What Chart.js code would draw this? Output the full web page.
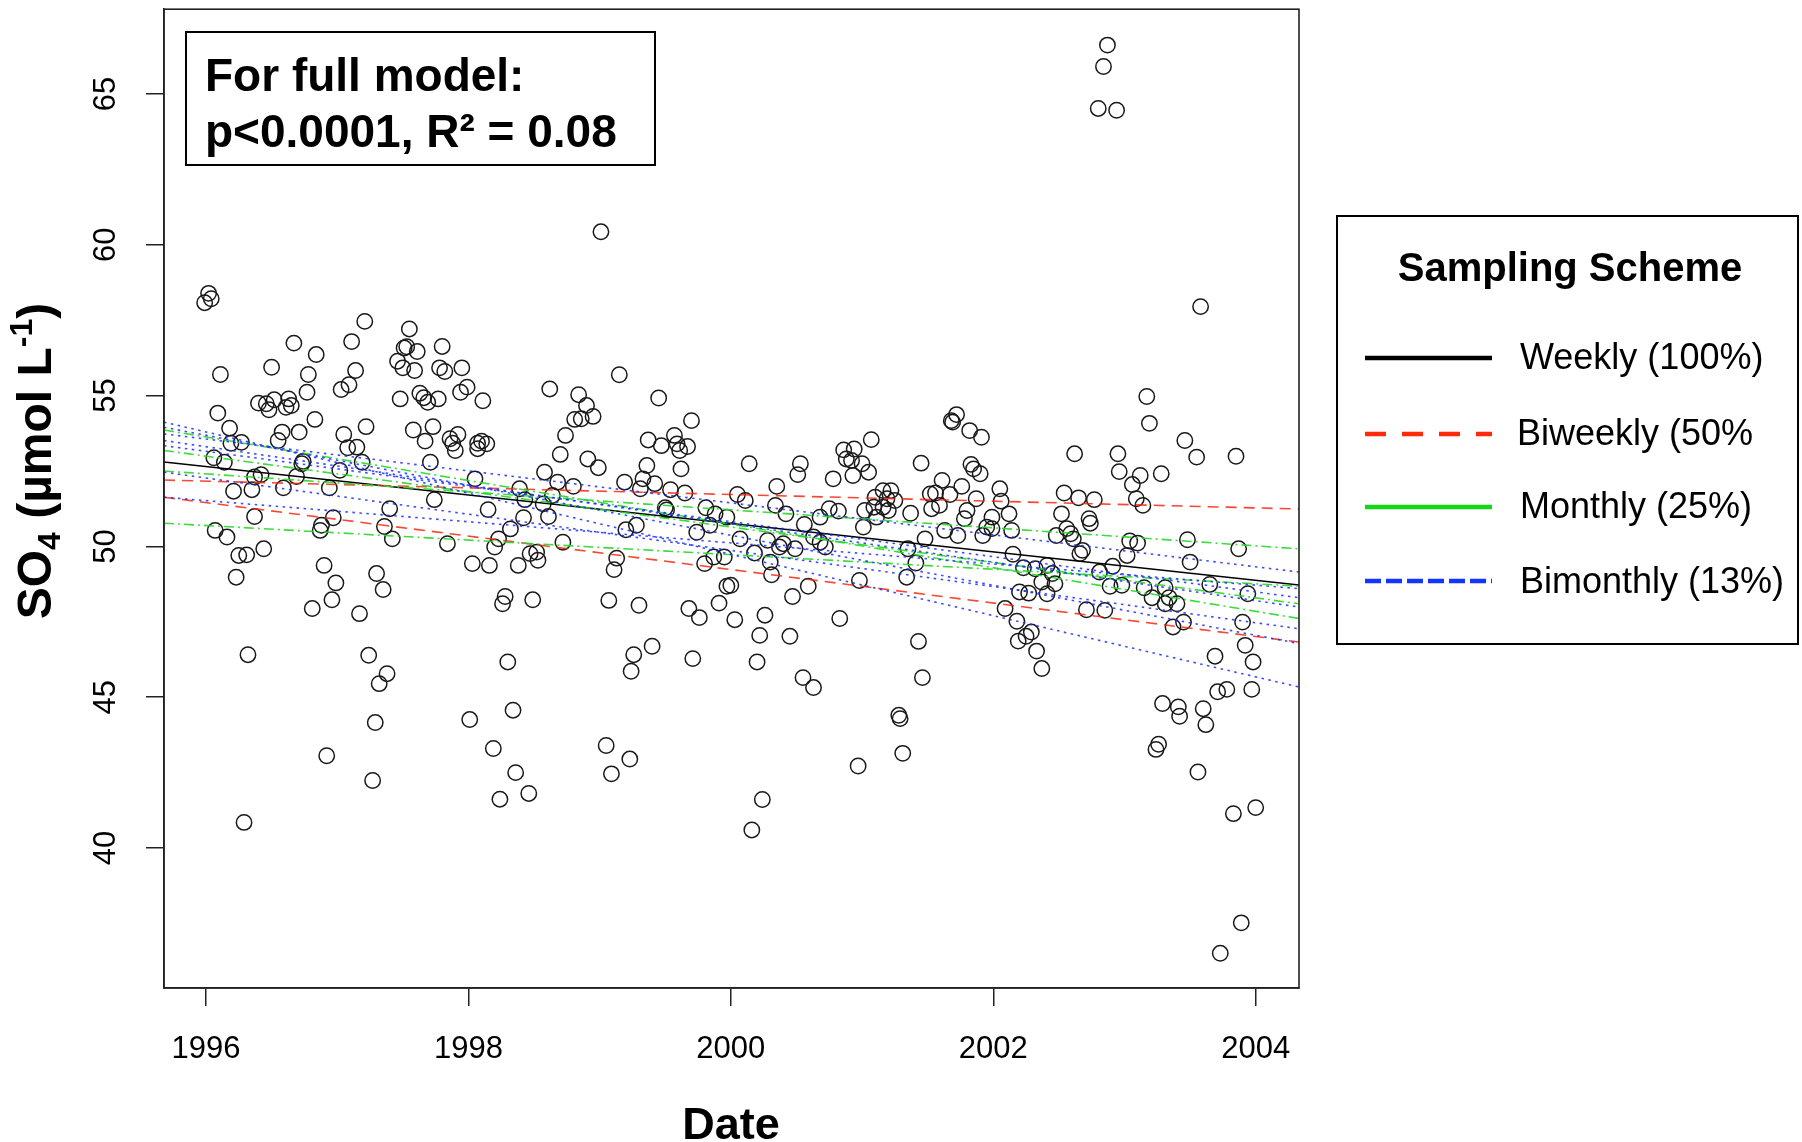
<!DOCTYPE html>
<html>
<head>
<meta charset="utf-8">
<script src="https://cdn.jsdelivr.net/npm/chart.js@4.4.1/dist/chart.umd.min.js"></script>
<style>
	html, body { margin: 0; padding: 0; background: #fff; }
	#wrap { position: relative; width: 1802px; height: 1142px; }
</style>
</head>
<body>
<div id="wrap"><canvas id="so4-chart"></canvas></div>
<script>
// sample dates (decimal year) and SO4 concentrations
var sampleDates = [
	1996.02, 1996.04, 1995.99, 1996.11, 1996.50, 1996.67, 1996.84, 1996.78, 1996.77, 1996.83,
	1997.11, 1997.21, 1997.14, 1997.09, 1997.03, 1997.55, 1997.53, 1997.51, 1997.61, 1997.46,
	1997.50, 1997.59, 1997.80, 1997.78, 1997.82, 1997.95, 1997.48, 1997.63, 1997.66, 1997.69,
	1997.77, 1997.94, 1997.99, 1998.11, 1998.62, 1996.40, 1996.46, 1996.52, 1996.48, 1996.63,
	1996.65, 1996.61, 1996.09, 1996.18, 1996.19, 1996.27, 1996.06, 1996.14, 1996.58, 1996.55,
	1996.71, 1996.37, 1996.42, 1996.21, 1996.35, 1996.59, 1996.69, 1996.74, 1996.73, 1996.94,
	1997.02, 1997.05, 1997.08, 1997.15, 1997.19, 1997.22, 1996.37, 1996.97, 1997.40, 1997.58,
	1997.73, 1997.67, 1997.71, 1997.74, 1997.86, 1997.92, 1997.88, 1997.90, 1998.07, 1998.10,
	1998.14, 1998.07, 1998.05, 1998.15, 1998.39, 1998.43, 1998.58, 1998.42, 1998.57,
	1996.07, 1996.16, 1996.25, 1996.31, 1996.44, 1996.23, 1996.32, 1996.87, 1996.88, 1996.90,
	1996.99, 1996.96, 1996.81, 1997.17, 1997.30, 1997.35, 1997.36, 1997.42, 1997.24, 1997.38,
	1997.32, 1997.29, 1996.92, 1997.84, 1998.03, 1998.16, 1998.20, 1998.23, 1998.32, 1998.38,
	1998.47, 1998.52, 1998.53, 1998.28, 1998.26, 1998.49, 1998.30, 1998.01, 1998.34, 1998.19,
	1996.29, 1997.27, 1998.36, 1998.24, 1998.46,
	1999.15, 1999.45, 1999.70, 1998.84, 1998.90, 1998.81, 1998.86, 1998.95, 1998.74, 1998.70,
	1998.91, 1998.99, 1998.68, 1998.80, 1998.64, 1999.37, 1999.47, 1999.57, 1999.67, 1999.61,
	1999.59, 1999.62, 1999.36, 1999.33, 1999.31, 1999.42, 1999.19, 1999.54, 1999.65, 1999.50,
	1999.51, 2000.14, 2000.05, 2000.11, 2000.35, 2000.53, 2000.51, 2000.78, 2000.34, 2000.42,
	2000.86, 2000.94, 2000.88, 2000.92, 2001.00, 2001.05, 2000.93, 2001.07, 2001.45, 2001.10,
	2001.16, 2001.22, 2001.19, 2001.25, 2001.16, 2001.09, 2001.02, 2001.20, 2001.37, 2000.75,
	2000.82, 2000.68, 1999.81, 1999.88, 1999.97, 2001.52,
	1998.61, 1998.72, 1999.20, 1999.28, 1999.13, 1999.11, 1999.07, 1999.30, 1999.26, 1999.24,
	1999.40, 1999.05, 1999.23, 1999.09, 1999.74, 1999.84, 1999.80, 1999.87, 1999.95, 1999.97,
	2000.00, 1999.68, 1999.76, 1999.91, 2000.03, 1999.71, 2000.07, 2000.18, 2000.30, 2000.31,
	2000.28, 2000.37, 2000.40, 2000.49, 2000.26, 2000.22, 2000.20, 2000.45, 2000.47, 2000.59,
	2000.55, 2000.63, 2000.56, 2000.63, 2000.68, 2000.72, 2000.83, 2001.01, 2001.11, 2000.98,
	2001.35, 2001.41, 2001.34, 2001.48, 2001.43, 2001.46, 2001.28, 2001.29, 2001.31, 2000.97,
	2000.24, 2000.16,
	2003.58, 2003.17, 2003.19, 2003.46, 2003.55, 2003.85, 2002.62, 2002.95, 2002.96, 2003.12,
	2003.06, 2003.28, 2003.09, 2003.14, 2002.54, 2002.65, 2002.77, 2002.52, 2002.73, 2001.72,
	2001.68, 2001.69, 2001.82, 2001.91, 2001.83, 2001.85, 2001.90, 2001.61, 2001.76, 2001.56,
	2001.67, 2001.87, 2002.05, 2002.06, 2001.53, 2001.59, 2001.80, 2002.12, 2001.99,
	2001.78, 2002.74, 2001.63, 2001.73, 2001.95, 2001.92, 2001.99, 2002.14, 2002.48, 2002.56,
	2002.59, 2002.61, 2002.68, 2002.66, 2003.04, 2003.10, 2003.02, 2003.48, 2003.50, 2003.87,
	2002.15, 2002.23, 2002.32, 2002.41, 2002.45, 2002.37, 2002.47, 2002.41, 2002.20, 2002.27,
	2002.09, 2002.18, 2002.29, 2002.25, 2002.19, 2002.33, 2002.37, 2002.81, 2002.91, 2002.89,
	2002.98, 2002.71, 2002.85, 2003.15, 2003.21, 2003.31, 2003.34, 2003.31, 2003.40, 2003.45,
	2003.37, 2003.65, 2003.94, 2003.90, 2003.92, 2003.98, 2003.69, 2003.71, 2003.78, 2003.97,
	2003.29, 2003.41, 2003.42, 2003.60, 2003.62, 2003.26, 2003.24,
	2003.56, 2003.83, 2004.00, 2003.89, 2003.73,
	1999.01, 2002.87, 2002.84, 2002.80, 2002.94
];
var so4Values = [
	58.39, 58.21, 58.08, 55.70, 55.94, 56.74, 56.36, 55.70, 55.11, 54.21,
	56.79, 57.46, 55.83, 55.36, 55.20, 57.21, 56.62, 56.58, 56.46, 56.14,
	55.92, 55.83, 56.63, 55.92, 55.80, 55.92, 54.89, 55.08, 54.93, 54.78,
	54.89, 55.11, 55.28, 54.83, 55.22, 54.75, 54.73, 54.86, 54.53, 54.89,
	54.67, 54.61, 54.42, 53.92, 53.42, 53.45, 52.94, 52.79, 53.79, 53.51,
	53.79, 52.30, 52.38, 51.83, 51.88, 51.94, 52.32, 52.82, 52.74, 51.94,
	52.52, 53.71, 53.27, 53.29, 52.79, 53.97, 50.99, 50.95, 51.25, 53.86,
	53.97, 53.49, 52.79, 51.55, 53.57, 53.71, 53.42, 53.18, 53.42, 53.49,
	53.40, 53.24, 52.24, 51.22, 51.91, 51.55, 52.46, 50.95, 51.41,
	50.53, 50.31, 49.70, 49.72, 49.92, 48.98, 46.41, 50.53, 50.70, 49.37,
	48.79, 48.23, 47.94, 47.77, 49.10, 48.57, 50.66, 50.25, 46.39, 45.78,
	45.45, 44.16, 43.06, 50.09, 49.43, 49.37, 49.98, 50.25, 50.58, 49.37,
	49.76, 49.81, 49.54, 48.34, 48.10, 48.23, 46.17, 44.26, 44.57, 43.30,
	40.85, 42.24, 42.50, 41.62, 41.81,
	55.69, 54.92, 54.17, 55.03, 54.67, 54.21, 54.23, 54.31, 53.68, 53.05,
	52.90, 52.61, 52.13, 51.99, 51.69, 53.53, 53.34, 53.68, 53.31, 53.18,
	53.40, 52.57, 52.68, 52.24, 51.91, 52.08, 52.13, 51.88, 51.77, 51.28,
	51.21, 52.74, 51.72, 51.52, 51.99, 52.74, 52.38, 52.24, 51.36, 51.08,
	53.20, 53.23, 52.90, 52.85, 52.74, 52.46, 52.35, 53.54, 52.76, 51.63,
	51.85, 51.85, 51.58, 51.52, 51.30, 51.30, 51.19, 51.19, 51.10, 51.25,
	51.17, 50.97, 51.28, 51.08, 50.97, 51.74,
	50.99, 50.14, 50.55, 50.70, 49.61, 49.23, 48.21, 48.05, 46.41, 45.86,
	46.69, 43.40, 42.95, 42.46, 50.47, 50.70, 49.43, 49.65, 49.65, 48.68,
	48.71, 47.94, 47.64, 48.12, 47.57, 46.28, 50.25, 49.78, 49.48, 49.06,
	50.20, 49.98, 50.09, 49.92, 47.72, 47.05, 46.17, 47.02, 48.34, 48.68,
	45.65, 45.32, 50.73, 50.31, 50.14, 49.98, 47.61, 50.64, 50.97, 48.87,
	49.92, 49.45, 48.98, 50.25, 46.85, 45.65, 44.40, 44.29, 43.14, 42.72,
	41.61, 40.60,
	57.95, 54.97, 54.08, 53.51, 52.96, 52.99, 53.07, 53.07, 52.48, 52.35,
	52.05, 52.41, 51.58, 51.36, 51.77, 51.61, 51.55, 51.08, 50.92, 54.37,
	54.17, 54.12, 53.84, 53.62, 52.72, 52.57, 52.41, 52.19, 51.99, 51.77,
	51.72, 51.58, 51.91, 51.50, 51.25, 51.36, 51.19, 51.08, 50.97,
	50.92, 50.77, 50.53, 50.36, 50.64, 50.36, 50.59, 50.53, 50.36, 50.59,
	50.42, 50.25, 49.87, 49.76, 50.18, 50.11, 49.70, 50.22, 49.48, 49.92,
	49.74, 49.29, 49.26, 49.37, 49.10, 48.82, 48.76, 48.43, 48.49, 48.45,
	47.94, 47.52, 47.16, 47.02, 46.86, 46.53, 45.95, 49.15, 49.34, 48.68,
	48.71, 47.90, 47.88, 48.63, 48.30, 48.63, 48.30, 48.10, 48.10, 47.49,
	47.33, 48.74, 48.43, 47.49, 46.72, 46.17, 46.36, 45.18, 45.26, 45.26,
	44.79, 44.68, 44.37, 44.62, 44.09, 43.44, 43.27,
	42.52, 41.14, 41.34, 37.52, 36.51,
	60.43, 66.62, 65.91, 64.52, 64.46
];

// fitted trend lines: value at left and right edge of the plot
var fitEdges = [1995.68, 2004.33];
var weeklyFits = [[52.80, 48.72]];
var biweeklyFits = [[52.20, 51.24], [51.63, 46.83]];
var monthlyFits = [[53.86, 47.61], [53.18, 48.10], [52.50, 49.92], [50.77, 48.68]];
var bimonthlyFits = [[54.12, 45.34], [53.95, 46.78], [53.73, 49.15], [53.51, 47.99], [53.34, 48.30], [52.46, 47.27], [51.63, 48.60]];

var xTicks = [1996, 1998, 2000, 2002, 2004];
var yTicks = [40, 45, 50, 55, 60, 65];

var legendLabels = ['Weekly (100%)', 'Biweekly (50%', 'Monthly (25%)', 'Bimonthly (13%)'];
var legendColors = ['#000000', '#ff2a0a', '#14d814', '#1236ff'];
var legendDash = [[], [21, 16], [], [16, 5]];

var FONT = "'Liberation Sans', Arial, Helvetica, sans-serif";

function fitSets(fits, color, dash) {
	return fits.map(function (f) {
		return {
			type: 'scatter',
			showLine: true,
			data: [{ x: fitEdges[0], y: f[0] }, { x: fitEdges[1], y: f[1] }],
			borderColor: color,
			borderDash: dash,
			borderWidth: 1.6,
			pointRadius: 0,
			fill: false,
			order: 1
		};
	});
}

var points = sampleDates.map(function (d, i) {
	return { x: d, y: so4Values[i] };
});

var datasets = [{
	type: 'scatter',
	data: points,
	pointStyle: 'circle',
	pointRadius: 7.7,
	borderWidth: 1.5,
	borderColor: '#1a1a1a',
	backgroundColor: 'rgba(0,0,0,0)',
	order: 10
}];
datasets = datasets
	.concat(fitSets(bimonthlyFits, 'rgba(25,45,255,0.85)', [2.5, 4.5]))
	.concat(fitSets(monthlyFits, 'rgba(40,215,40,0.9)', [10, 4, 2, 4]))
	.concat(fitSets(biweeklyFits, 'rgba(245,40,15,0.85)', [11, 7]))
	.concat(fitSets(weeklyFits, '#000000', []));

function richText(ctx, parts, x, y, align) {
	var total = 0;
	ctx.textAlign = 'left';
	parts.forEach(function (p) {
		ctx.font = p.font;
		total += ctx.measureText(p.text).width;
	});
	var cx = align === 'center' ? x - total / 2 : x;
	parts.forEach(function (p) {
		ctx.font = p.font;
		ctx.fillText(p.text, cx, y + (p.dy || 0));
		cx += ctx.measureText(p.text).width;
	});
}

var decorations = {
	id: 'decorations',
	afterDraw: function (chart) {
		var ctx = chart.ctx;
		var area = chart.chartArea;
		var xs = chart.scales.x;
		var ys = chart.scales.y;
		ctx.save();
		ctx.fillStyle = '#000';
		ctx.strokeStyle = '#222';
		ctx.lineWidth = 1.6;
		ctx.setLineDash([]);
		ctx.strokeRect(area.left, area.top, area.right - area.left, area.bottom - area.top);

		// tick labels
		ctx.font = '31px ' + FONT;
		ctx.textAlign = 'center';
		ctx.textBaseline = 'alphabetic';
		xTicks.forEach(function (v) {
			ctx.fillText(String(v), xs.getPixelForValue(v), 1058);
		});
		yTicks.forEach(function (v) {
			ctx.save();
			ctx.translate(115, ys.getPixelForValue(v));
			ctx.rotate(-Math.PI / 2);
			ctx.fillText(String(v), 0, 0);
			ctx.restore();
		});

		// axis titles
		ctx.font = 'bold 45px ' + FONT;
		ctx.fillText('Date', 731, 1139);
		ctx.save();
		ctx.translate(51, 461);
		ctx.rotate(-Math.PI / 2);
		var big = 'bold 48px ' + FONT;
		var small = 'bold 32px ' + FONT;
		richText(ctx, [
			{ text: 'SO', font: big },
			{ text: '4', font: small, dy: 9 },
			{ text: ' (\u00b5mol L', font: big },
			{ text: '-1', font: small, dy: -19 },
			{ text: ')', font: big }
		], 0, 0, 'center');
		ctx.restore();

		// model box
		ctx.lineWidth = 2;
		ctx.strokeStyle = '#000';
		ctx.strokeRect(186, 32, 469, 133);
		ctx.textAlign = 'left';
		ctx.font = 'bold 46px ' + FONT;
		ctx.fillText('For full model:', 205, 91);
		ctx.fillText('p<0.0001, R\u00b2 = 0.08', 205, 147);

		// legend
		ctx.strokeRect(1337, 216, 461, 428);
		ctx.textAlign = 'center';
		ctx.font = 'bold 40px ' + FONT;
		ctx.fillText('Sampling Scheme', 1570, 281);
		var lineY = [358, 434, 507, 581];
		var textY = [369, 445, 518, 593];
		ctx.textAlign = 'left';
		ctx.font = '36px ' + FONT;
		legendLabels.forEach(function (lbl, i) {
			ctx.beginPath();
			ctx.strokeStyle = legendColors[i];
			ctx.lineWidth = 4.3;
			ctx.setLineDash(legendDash[i]);
			ctx.moveTo(1365, lineY[i]);
			ctx.lineTo(1492, lineY[i]);
			ctx.stroke();
			ctx.setLineDash([]);
			ctx.fillText(lbl, i === 1 ? 1517 : 1520, textY[i]);
		});
		ctx.restore();
	}
};

new Chart(document.getElementById('so4-chart').getContext('2d'), {
	type: 'scatter',
	data: { datasets: datasets },
	options: {
		responsive: true,
		maintainAspectRatio: false,
		animation: false,
		layout: { padding: { left: 0, right: 503, top: 8, bottom: 0 } },
		plugins: { legend: { display: false }, tooltip: { enabled: false } },
		scales: {
			x: {
				type: 'linear',
				position: 'bottom',
				min: fitEdges[0],
				max: fitEdges[1],
				afterBuildTicks: function (s) { s.ticks = xTicks.map(function (v) { return { value: v }; }); },
				afterFit: function (s) { s.height = 154; },
				ticks: { display: false },
				grid: { display: true, drawOnChartArea: false, drawTicks: true, tickLength: 18, color: '#222', lineWidth: 1.5 },
				border: { display: true, color: '#222', width: 1.6 }
			},
			y: {
				type: 'linear',
				position: 'left',
				min: 35.36,
				max: 67.81,
				afterBuildTicks: function (s) { s.ticks = yTicks.map(function (v) { return { value: v }; }); },
				afterFit: function (s) { s.width = 164; },
				ticks: { display: false },
				grid: { display: true, drawOnChartArea: false, drawTicks: true, tickLength: 18, color: '#222', lineWidth: 1.5 },
				border: { display: true, color: '#222', width: 1.6 }
			}
		}
	},
	plugins: [decorations]
});
</script>
</body>
</html>
